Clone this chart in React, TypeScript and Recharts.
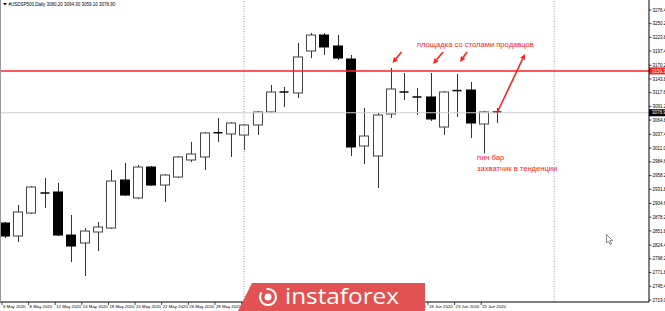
import React from 'react';
import { ComposedChart, Bar, XAxis, YAxis, ReferenceLine, ReferenceDot } from 'recharts';

// ---- data (USDSP500 daily, 6 May – 26 Jun 2020) ----
const dates = [
  '6 May 2020', '7 May 2020', '8 May 2020', '11 May 2020', '12 May 2020', '13 May 2020', '14 May 2020',
  '15 May 2020', '18 May 2020', '19 May 2020', '20 May 2020', '21 May 2020', '22 May 2020', '25 May 2020',
  '26 May 2020', '27 May 2020', '28 May 2020', '29 May 2020', '1 Jun 2020', '2 Jun 2020', '3 Jun 2020',
  '4 Jun 2020', '5 Jun 2020', '8 Jun 2020', '9 Jun 2020', '10 Jun 2020', '11 Jun 2020', '12 Jun 2020',
  '15 Jun 2020', '16 Jun 2020', '17 Jun 2020', '18 Jun 2020', '19 Jun 2020', '22 Jun 2020', '23 Jun 2020',
  '24 Jun 2020', '25 Jun 2020', '26 Jun 2020',
];
const opens = [
  2867.0, 2842.0, 2886.2, 2924.7, 2926.6, 2843.9, 2828.6, 2849.7, 2857.4, 2949.7,
  2915.1, 2974.6, 2940.0, 2955.4, 2988.1, 2993.9, 3040.0, 3038.1, 3036.1, 3055.4,
  3080.4, 3118.8, 3116.9, 3197.6, 3228.3, 3207.2, 3182.2, 3015.0, 2995.8, 3076.5,
  3118.8, 3109.2, 3109.2, 3051.5, 3120.7, 3122.6, 3057.3, 3080.2,
];
const highs = [
  2868.9, 2901.6, 2938.1, 2953.5, 2943.9, 2882.4, 2857.4, 2868.9, 2968.9, 2982.3,
  2978.5, 2976.6, 2961.2, 2995.8, 3022.7, 3041.9, 3068.8, 3061.0, 3057.3, 3082.3,
  3132.2, 3128.4, 3213.0, 3232.2, 3232.2, 3228.3, 3189.9, 3088.0, 3078.4, 3164.9,
  3155.3, 3126.5, 3155.3, 3120.7, 3153.4, 3138.0, 3082.3, 3088.0,
];
const lows = [
  2838.2, 2830.5, 2884.3, 2895.8, 2842.0, 2792.1, 2765.1, 2813.2, 2855.5, 2918.9,
  2913.0, 2938.1, 2907.4, 2953.5, 2984.3, 2968.9, 3022.7, 2993.9, 3007.3, 3036.1,
  3078.4, 3090.0, 3107.3, 3184.1, 3189.9, 3180.3, 2995.8, 2980.4, 2934.3, 3068.8,
  3103.4, 3074.6, 3063.1, 3036.1, 3070.7, 3030.4, 3000.6, 3059.1,
];
const closes = [
  2842.0, 2888.2, 2936.2, 2924.0, 2843.9, 2822.8, 2851.6, 2859.3, 2947.7, 2920.8,
  2974.6, 2940.0, 2959.3, 2993.9, 2999.6, 3040.0, 3040.5, 3059.2, 3055.4, 3080.4,
  3118.8, 3118.0, 3186.1, 3228.3, 3205.3, 3184.1, 3013.1, 3034.2, 3074.6, 3124.6,
  3118.0, 3108.5, 3066.9, 3118.8, 3121.5, 3059.2, 3080.4, 3078.9,
];
const priceTicks = [
  3276.4, 3250.2, 3223.8, 3197.4, 3170.2, 3143.8, 3117.6, 3091.2, 3064.8, 3037.4, 3011.0,
  2984.6, 2958.2, 2931.8, 2904.6, 2878.2, 2851.8, 2824.4, 2798.2, 2771.8, 2745.4, 2719.0,
];
const dateTicks = [1, 3, 5, 7, 9, 11, 13, 15, 17, 19, 21, 23, 25, 27, 29, 31, 33, 35, 37];
const resistanceLevel = 3159.3;
const lastPrice = 3078.9;
const monthSeparators = [19, 42.3];
const arrows = [
  { x1: 30.83, y1: 3195.7, x2: 30.15, y2: 3174.5 },
  { x1: 33.95, y1: 3195.7, x2: 33.2, y2: 3172.6 },
  { x1: 35.75, y1: 3195.7, x2: 35.22, y2: 3176.4 },
  { x1: 38.0, y1: 3078.4, x2: 40.1, y2: 3191.8 },
];
const notes = [
  { x: 31.99, y: 3211.1, text: 'площадка со столами продавцов' },
  { x: 36.5, y: 2993.9, text: 'пин бар' },
  { x: 36.5, y: 2972.7, text: 'захватчик в тенденции' },
];

const data = dates.map((d, i) => ({
  idx: i + 1,
  date: d,
  open: opens[i],
  high: highs[i],
  low: lows[i],
  close: closes[i],
  range: [lows[i], highs[i]],
}));

const FONT = '"Liberation Sans", Arial, sans-serif';
const RED = '#ff2020';

const Candle = (props: any) => {
  const { x, width, payload } = props;
  let { y, height } = props;
  if (height < 0) { y = y + height; height = -height; }
  const { open, close, high, low } = payload;
  const k = height / (high - low);
  const yOf = (v: number) => y + (high - v) * k;
  const cx = Math.round(x + width / 2) + 0.5;
  const top = yOf(Math.max(open, close));
  const bot = yOf(Math.min(open, close));
  const bull = close >= open;
  const bx = Math.round(x) + 0.5;
  const bw = Math.round(width) - 1;
  return (
    <g>
      <line x1={cx} x2={cx} y1={y} y2={y + height} stroke="#333" strokeWidth={1} />
      {bot - top < 1.5 ? (
        <line x1={bx} x2={bx + bw} y1={top} y2={top} stroke="#000" strokeWidth={1.5} />
      ) : (
        <rect x={bx} y={top} width={bw} height={bot - top} fill={bull ? '#fff' : '#000'} stroke={bull ? '#444' : '#000'} strokeWidth={1} />
      )}
    </g>
  );
};

const DateTick = (props: any) => {
  const { x, y, payload } = props;
  const label = dates[payload.value - 1];
  return (
    <g>
      <line x1={x - 2.5} x2={x - 2.5} y1={y} y2={y + 3} stroke="#000" strokeWidth={0.7} />
      <text x={x - 1.5} y={y + 5.6} fontSize={4.3} fontFamily={FONT} fill="#000" textAnchor="start">{label}</text>
    </g>
  );
};

const PriceTick = (props: any) => {
  const { x, y, payload } = props;
  return (
    <g>
      <line x1={x} x2={x + 2.5} y1={y} y2={y} stroke="#000" strokeWidth={0.7} />
      <text x={x + 3.5} y={y + 1.6} fontSize={4.5} fontFamily={FONT} fill="#000" textAnchor="start">{payload.value.toFixed(2)}</text>
    </g>
  );
};

const axisBox = (bg: string, value: number) => (p: any) => {
  const vb = p.viewBox;
  const xr = vb.x + vb.width;
  return (
    <g>
      <rect x={xr} y={vb.y - 3.5} width={16} height={7} fill={bg} />
      <text x={xr + 3} y={vb.y + 1.6} fontSize={4.5} fontFamily={FONT} fill="#fff">{value.toFixed(2)}</text>
    </g>
  );
};

const ArrowShape = (p: any) => {
  const { x1, y1, x2, y2 } = p;
  const ang = Math.atan2(y2 - y1, x2 - x1);
  const L = 5.5, W = 2.6;
  const bx = x2 - L * Math.cos(ang), by = y2 - L * Math.sin(ang);
  const px = -Math.sin(ang) * W, py = Math.cos(ang) * W;
  return (
    <g>
      <line x1={x1} y1={y1} x2={bx} y2={by} stroke={RED} strokeWidth={1.6} />
      <polygon points={`${x2},${y2} ${bx + px},${by + py} ${bx - px},${by - py}`} fill={RED} />
    </g>
  );
};

export default function App() {
  return (
    <div style={{ position: 'absolute', left: 0, top: 0, width: 665, height: 311, background: '#fff' }}>
      <ComposedChart width={665} height={311} data={data} margin={{ top: 0, right: 0, bottom: 0, left: 0 }}>
        <XAxis
          dataKey="idx"
          type="number"
          domain={[0.662, 49.42]}
          allowDataOverflow
          ticks={dateTicks}
          interval={0}
          height={9}
          tick={<DateTick />}
          tickLine={false}
          tickSize={0}
          tickMargin={0}
          axisLine={{ stroke: '#000', strokeWidth: 1 }}
        />
        <YAxis
          orientation="right"
          type="number"
          domain={[2715.2, 3295.6]}
          allowDataOverflow
          ticks={priceTicks}
          interval={0}
          width={16}
          tick={<PriceTick />}
          tickLine={false}
          tickSize={0}
          tickMargin={0}
          axisLine={{ stroke: '#000', strokeWidth: 1 }}
        />
        {monthSeparators.map((m) => (
          <ReferenceLine key={m} x={m} stroke="#888" strokeWidth={0.8} strokeDasharray="1 1.5" ifOverflow="extendDomain" />
        ))}
        <ReferenceLine y={lastPrice} stroke="#cfcfcf" strokeWidth={1} label={axisBox('#000', lastPrice)} />
        <Bar dataKey="range" barSize={10} shape={<Candle />} isAnimationActive={false} />
        <ReferenceLine y={resistanceLevel} stroke={RED} strokeWidth={1.5} label={axisBox(RED, resistanceLevel)} />
        {arrows.map((a, i) => (
          <ReferenceLine
            key={'a' + i}
            segment={[{ x: a.x1, y: a.y1 }, { x: a.x2, y: a.y2 }]}
            shape={<ArrowShape />}
            ifOverflow="visible"
          />
        ))}
        {notes.map((n, i) => (
          <ReferenceDot
            key={'n' + i}
            x={n.x}
            y={n.y}
            r={0.01}
            fill="none"
            stroke="none"
            ifOverflow="visible"
            label={(p: any) => (
              <text x={p.viewBox.x} y={p.viewBox.y + 2.8} fontSize={7.6} fontFamily='"Liberation Sans", Arial, sans-serif' fill={RED}>
                {n.text}
              </text>
            )}
          />
        ))}
      </ComposedChart>
      <svg width={665} height={311} style={{ position: 'absolute', left: 0, top: 0, pointerEvents: 'none' }}>
        <line x1={0.5} x2={0.5} y1={0} y2={302} stroke="#999" strokeWidth={1} />
        <polygon points="3,3 7,3 5,5.5" fill="#000" />
        <text x={8.5} y={5.5} fontSize={4.5} fontFamily={FONT} fill="#000">#USDSP500,Daily  3080.20 3094.30 3059.10 3078.90</text>
        <polygon points="252,283 425,283 425,311 238,311" fill="#e25252" />
        <circle cx={268} cy={297} r={8} fill="none" stroke="#fff" strokeWidth={2.2} strokeDasharray="30 6" />
        <circle cx={268} cy={297} r={3.5} fill="#fff" />
        <text x={285} y={304} fontSize={21} textLength={114} lengthAdjust="spacingAndGlyphs" fontFamily='"Open Sans", "Noto Sans", sans-serif' fill="#fff">instaforex</text>
        <path d="M606.5,234.5 L606.5,243 L608.5,241 L610,244.5 L611.5,244 L610,240.5 L612.5,240.5 Z" fill="#fff" stroke="#555" strokeWidth={0.7} />
      </svg>
    </div>
  );
}
